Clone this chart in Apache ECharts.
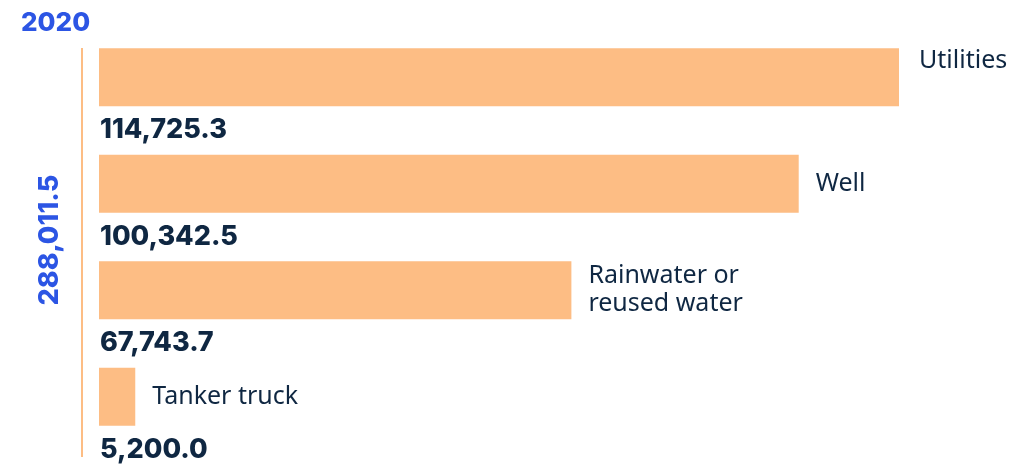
<!DOCTYPE html>
<html>
<head>
<meta charset="utf-8">
<script src="https://cdn.jsdelivr.net/npm/echarts@6/dist/echarts.min.js"></script>
<style>
  html, body { margin: 0; padding: 0; background: #fff; }
  #chart { width: 1017px; height: 468px; }
</style>
</head>
<body>
<div id="chart"></div>
<script>
const categories = ["Utilities", "Well", "Rainwater or\nreused water", "Tanker truck"];
const values = [114725.3, 100342.5, 67743.7, 5200.0];
const year = "2020";

const total = values.reduce((a, b) => a + b, 0);
const fmt = (v) => v.toLocaleString("en-US", { minimumFractionDigits: 1, maximumFractionDigits: 1 });

const barColor = "#fdbd84";
const blue = "#2c55e4";
const dark = "#0f2742";

const chart = echarts.init(document.getElementById("chart"));
const option = {
  animation: false,
  title: {
    text: year,
    left: 16,
    top: 5,
    textStyle: { color: blue, fontSize: 26, fontWeight: 800, fontFamily: "Inter" },
  },
  grid: { left: 99, width: 800, top: 24, height: 426 },
  xAxis: { type: "value", min: 0, max: values[0], show: false },
  yAxis: {
    type: "category",
    inverse: true,
    data: categories,
    axisLine: { show: false },
    axisTick: { show: false },
    axisLabel: { show: false },
  },
  graphic: [
    {
      type: "line",
      shape: { x1: 82, y1: 48, x2: 82, y2: 457 },
      style: { stroke: barColor, lineWidth: 2 },
    },
    {
      type: "text",
      x: 50,
      y: 240,
      rotation: Math.PI / 2,
      style: {
        text: fmt(total),
        fill: blue,
        font: "800 27px Inter",
        align: "center",
        verticalAlign: "middle",
      },
    },
  ],
  series: [
    {
      type: "bar",
      barWidth: 58,
      itemStyle: { color: barColor },
      label: {
        show: true,
        position: [1, 82],
        verticalAlign: "middle",
        formatter: (p) => fmt(p.value),
        color: dark,
        fontSize: 27,
        fontWeight: 800,
        fontFamily: "Inter",
      },
      data: values,
    },
    {
      type: "bar",
      barWidth: 58,
      barGap: "-100%",
      silent: true,
      itemStyle: { color: "transparent" },
      label: {
        show: true,
        position: "right",
        distance: 17,
        formatter: (p) => categories[p.dataIndex],
        color: dark,
        fontSize: 25,
        lineHeight: 28,
        fontFamily: "Noto Sans",
      },
      data: values.map((v, i) =>
        i === 0 ? { value: v, label: { offset: [3, -16] } } : v
      ),
    },
  ],
};
chart.setOption(option);
</script>
</body>
</html>
